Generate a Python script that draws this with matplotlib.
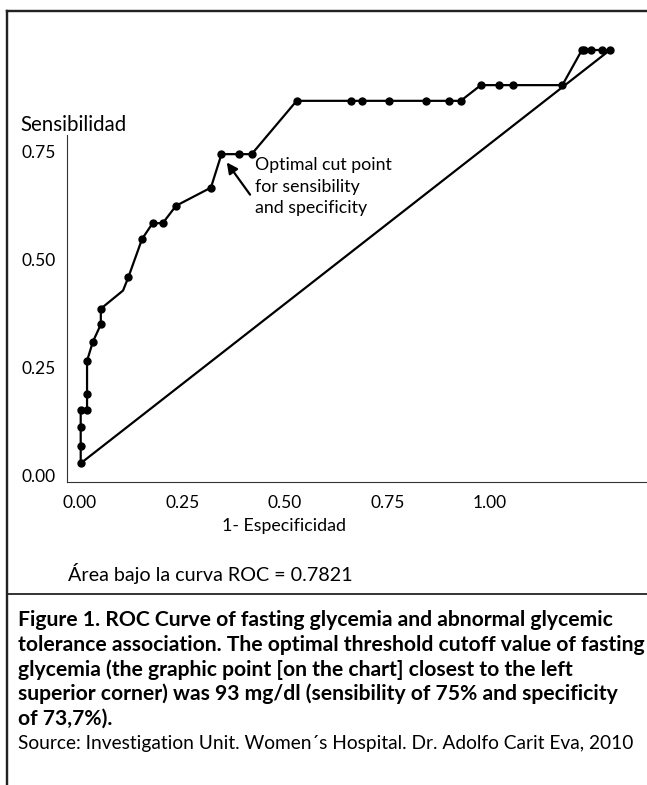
import numpy as np
import matplotlib
matplotlib.use("Agg")
import matplotlib.pyplot as plt
from matplotlib.lines import Line2D

# ROC curve (1 - specificity, sensitivity)
fpr = [0.000, 0.000, 0.000, 0.000, 0.012, 0.012, 0.012, 0.023, 0.038, 0.038,
       0.080, 0.090, 0.116, 0.136, 0.155, 0.180, 0.246, 0.266, 0.300, 0.323,
       0.408, 0.511, 0.532, 0.583, 0.652, 0.696, 0.718, 0.756, 0.791, 0.817,
       0.910, 0.947, 0.951, 0.964, 0.984, 1.000]
tpr = [0.000, 0.043, 0.089, 0.129, 0.129, 0.167, 0.248, 0.294, 0.336, 0.374,
       0.418, 0.450, 0.543, 0.581, 0.581, 0.623, 0.667, 0.748, 0.748, 0.748,
       0.877, 0.877, 0.877, 0.877, 0.877, 0.877, 0.877, 0.915, 0.915, 0.915,
       0.915, 1.000, 1.000, 1.000, 1.000, 1.000]
# the vertex at index 10 has no dot
has_dot = [i != 10 for i in range(len(fpr))]
optimal = (0.266, 0.748)

x_ticks = [0.00, 0.25, 0.50, 0.75, 1.00]
y_ticks = [0.00, 0.25, 0.50, 0.75]

caption = [
    "Figure 1. ROC Curve of fasting glycemia and abnormal glycemic",
    "tolerance association. The optimal threshold cutoff value of fasting",
    "glycemia (the graphic point [on the chart] closest to the left",
    "superior corner) was 93 mg/dl (sensibility of 75% and specificity",
    "of 73,7%).",
]
source = "Source: Investigation Unit. Women\u00b4s Hospital. Dr. Adolfo Carit Eva, 2010"

plt.rcParams["font.family"] = ["Lato", "DejaVu Sans"]

W, H = 647, 785
fig = plt.figure(figsize=(W / 100, H / 100), dpi=100)


def fx(px):
    return px / W


def fy(py):
    return 1 - py / H


# frame lines of the figure box
for xs, ys, lw in [([6.5, 647], [10.5, 10.5], 2.4),
                   ([6.5, 6.5], [10.5, 785], 2.4),
                   ([6.5, 647], [594, 594], 1.8)]:
    fig.add_artist(Line2D([fx(x) for x in xs], [fy(y) for y in ys],
                          color="#222222", lw=lw * 0.72))

# visible axes with ticks (0 -> 80px, 1 -> 490px ; 0 -> 476px, 0.75 -> 151px)
x0, x1 = 67, 647
y_top, y_bot = 135, 482
ax = fig.add_axes([fx(x0), fy(y_bot), fx(x1) - fx(x0), fy(y_top) - fy(y_bot)])
sx = 410.0
sy = (476 - 151) / 0.75
ax.set_xlim((x0 - 80) / sx, (x1 - 80) / sx)
ax.set_ylim((476 - y_bot) / sy, (476 - y_top) / sy)
ax.set_xticks(x_ticks)
ax.set_xticklabels([f"{v:.2f}" for v in x_ticks])
ax.set_yticks(y_ticks)
ax.set_yticklabels([f"{v:.2f}" for v in y_ticks])
ax.tick_params(length=0, labelsize=12.5, pad=8)
ax.tick_params(axis="x", pad=9)
for s in ["top", "right"]:
    ax.spines[s].set_visible(False)
for s in ["left", "bottom"]:
    ax.spines[s].set_linewidth(0.8)
    ax.spines[s].set_color("#333333")
ax.patch.set_visible(False)
ax.set_xlabel("1- Especificidad", fontsize=12.8)
ax.xaxis.set_label_coords((284 - x0) / (x1 - x0), -(518 - y_bot) / (y_bot - y_top))

# ROC drawing (its own frame: (0,0) at 80.7,463.3 px ; (1,1) at 610,50 px)
ax2 = fig.add_axes([fx(80.7), fy(463.3), fx(610) - fx(80.7), fy(50) - fy(463.3)])
ax2.set_xlim(0, 1)
ax2.set_ylim(0, 1)
ax2.axis("off")
ax2.plot([0, 1], [0, 1], color="black", lw=1.6, clip_on=False)
ax2.plot(fpr, tpr, color="black", lw=1.6, clip_on=False)
dx = [f for f, d in zip(fpr, has_dot) if d]
dy = [t for t, d in zip(tpr, has_dot) if d]
ax2.plot(dx, dy, "o", color="black", ms=5, clip_on=False)
ax2.annotate("", xy=(optimal[0] + 0.01, optimal[1] - 0.02),
             xytext=(0.320, 0.650),
             arrowprops=dict(arrowstyle="-|>", color="black", lw=1.6,
                             mutation_scale=16, shrinkA=0, shrinkB=0))
ax2.text(0.330, 0.740, "Optimal cut point\nfor sensibility\nand specificity",
         fontsize=12.8, va="top", ha="left", linespacing=1.42)

fig.text(fx(20), fy(125), "Sensibilidad", fontsize=14.8, va="center", ha="left")
fig.text(fx(68), fy(573), "\u00c1rea bajo la curva ROC = 0.7821", fontsize=14.2,
         va="center", ha="left")

for i, line in enumerate(caption):
    fig.text(fx(18), fy(620 + i * 24.7), line, fontsize=15.2, fontweight="bold",
             va="center", ha="left")
fig.text(fx(18), fy(743), source, fontsize=13.8, va="center", ha="left")

fig.savefig("out.png", dpi=100)
